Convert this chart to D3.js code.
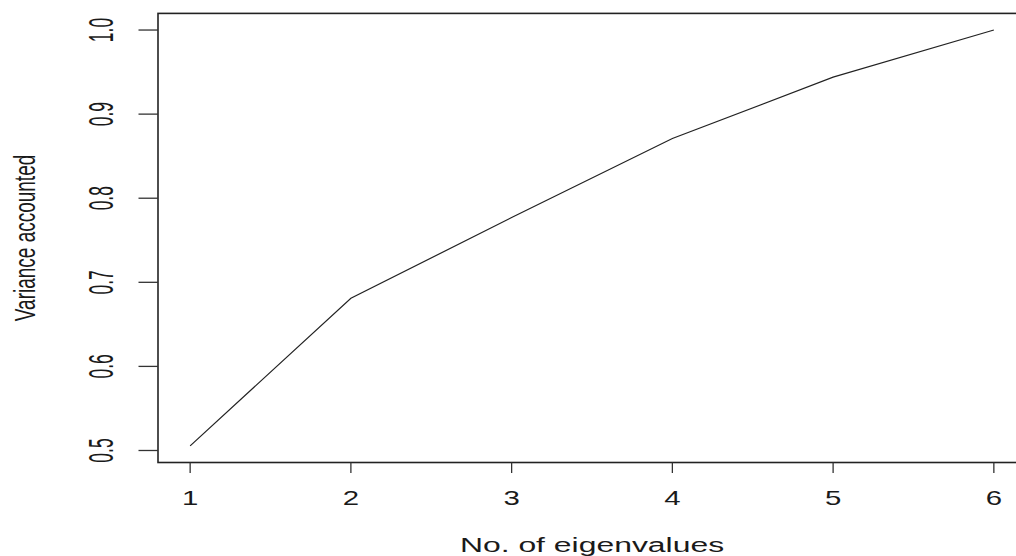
<!DOCTYPE html>
<html>
<head>
<meta charset="utf-8">
<script src="https://cdn.jsdelivr.net/npm/d3@7"></script>
<style>
  body { margin: 0; background: #fff; }
  text { font-family: "Liberation Sans", Arial, sans-serif; fill: #1a1a1a; }
</style>
</head>
<body>
<svg class="visual" width="1016" height="556"></svg>
<script>
const svg = d3.select(".visual");

// Data
const eigenNo = [1, 2, 3, 4, 5, 6];
const varianceAcc = [0.5055, 0.681, 0.777, 0.871, 0.944, 1.0];
const xTicks = [1, 2, 3, 4, 5, 6];
const yTicks = [0.5, 0.6, 0.7, 0.8, 0.9, 1.0];

// Plot box (right side runs past the picture edge like the original)
const box = {left: 158, right: 1026, top: 13.4, bottom: 462.5};

// R style 4% padding around the data range
function padded(ext) {
    const p = (ext[1] - ext[0]) * 0.04;
    return [ext[0] - p, ext[1] + p];
}

const x = d3.scaleLinear()
    .domain(padded(d3.extent(eigenNo)))
    .range([box.left, box.right]);

const y = d3.scaleLinear()
    .domain(padded(d3.extent(varianceAcc)))
    .range([box.bottom, box.top]);

// the original is stretched sideways, so text gets a horizontal scale
const sxX = 1.4, sxY = 2.0;

// Box
svg.append("rect")
    .attr("x", box.left)
    .attr("y", box.top)
    .attr("width", box.right - box.left)
    .attr("height", box.bottom - box.top)
    .attr("fill", "none")
    .attr("stroke", "#222")
    .attr("stroke-width", 1.6);

// X axis ticks and labels
const gx = svg.append("g");
gx.selectAll("line")
    .data(xTicks)
    .join("line")
    .attr("x1", d => x(d)).attr("x2", d => x(d))
    .attr("y1", box.bottom).attr("y2", box.bottom + 10.5)
    .attr("stroke", "#333")
    .attr("stroke-width", 1.3);

gx.selectAll("text")
    .data(xTicks)
    .join("text")
    .attr("transform", d => `translate(${x(d)},505) scale(${sxX},1)`)
    .attr("text-anchor", "middle")
    .style("font-size", "21px")
    .text(d => d);

// Y axis ticks and labels (rotated, as R does)
const gy = svg.append("g");
gy.selectAll("line")
    .data(yTicks)
    .join("line")
    .attr("x1", box.left - 19.5).attr("x2", box.left)
    .attr("y1", d => y(d)).attr("y2", d => y(d))
    .attr("stroke", "#333")
    .attr("stroke-width", 1.3);

gy.selectAll("text")
    .data(yTicks)
    .join("text")
    .attr("transform", d => `translate(113,${y(d)}) scale(${sxY},1) rotate(-90)`)
    .attr("text-anchor", "middle")
    .style("font-size", "17.5px")
    .text(d => d3.format(".1f")(d));

// Axis titles
svg.append("text")
    .attr("transform", `translate(${(box.left + box.right) / 2},552) scale(1.52,1)`)
    .attr("text-anchor", "middle")
    .style("font-size", "21px")
    .text("No. of eigenvalues");

svg.append("text")
    .attr("transform", `translate(35,${(box.top + box.bottom) / 2}) scale(1.6,1) rotate(-90)`)
    .attr("text-anchor", "middle")
    .style("font-size", "19px")
    .text("Variance accounted");

// The line itself
const line = d3.line()
    .x((d, i) => x(eigenNo[i]))
    .y(d => y(d));

svg.append("path")
    .datum(varianceAcc)
    .attr("d", line)
    .attr("fill", "none")
    .attr("stroke", "#222")
    .attr("stroke-width", 1.2);
</script>
</body>
</html>
